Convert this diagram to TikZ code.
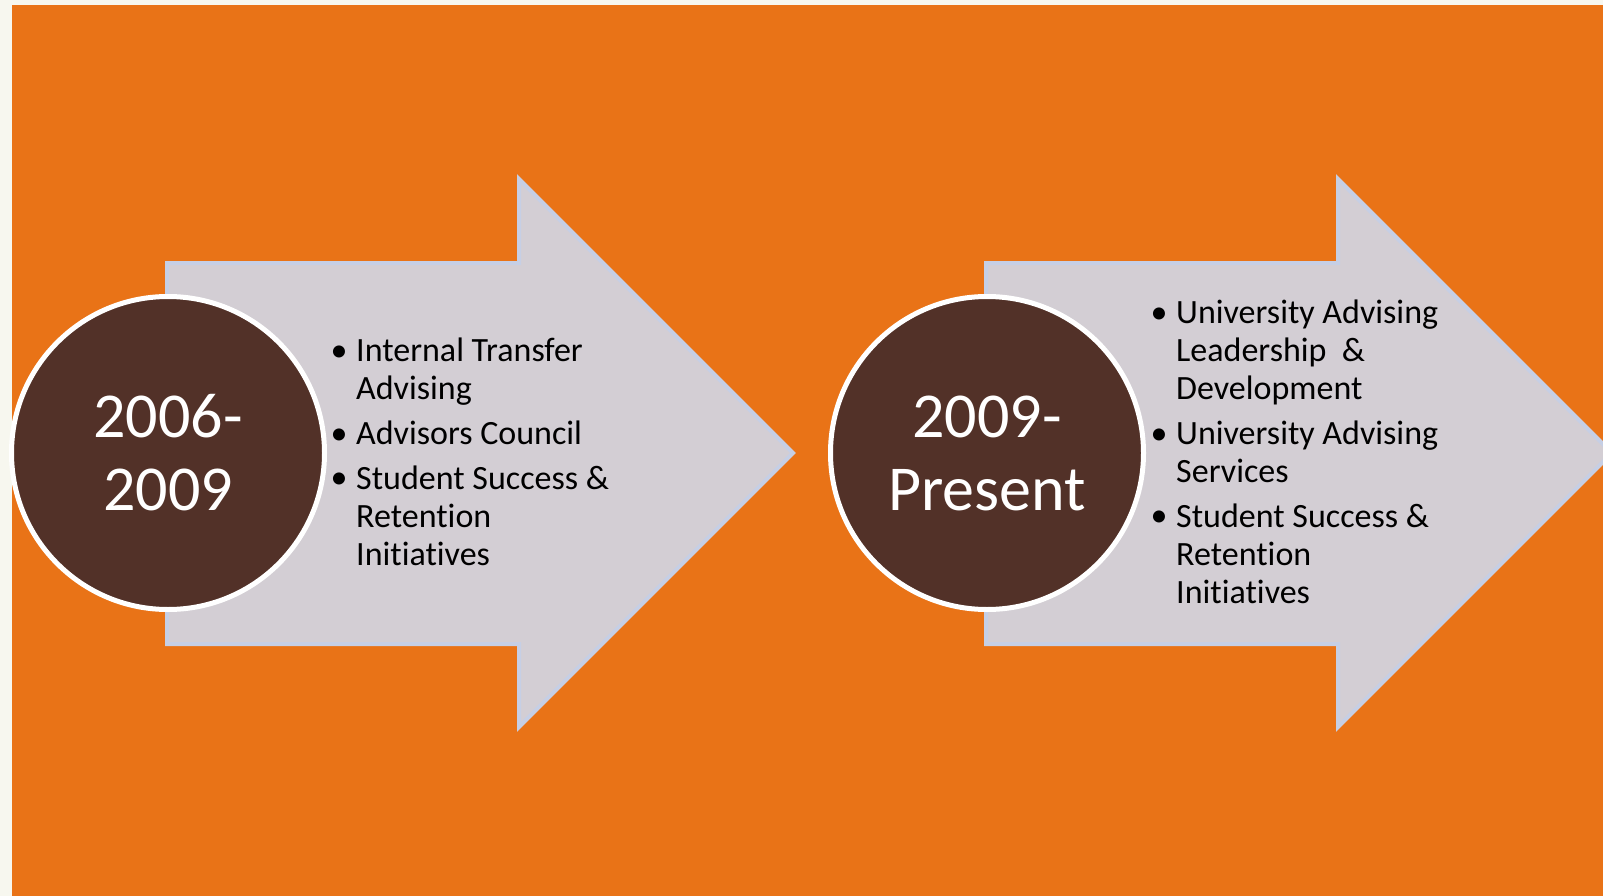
\documentclass[tikz,border=0pt]{standalone}
\usepackage{fontspec}
\setmainfont{Carlito}[Ligatures={NoCommon}]
\definecolor{bgorange}{HTML}{E97317}
\definecolor{offwhite}{HTML}{F7F7EF}
\definecolor{arrowfill}{HTML}{D3CED4}
\definecolor{arrowline}{HTML}{C6CFE5}
\definecolor{circfill}{HTML}{523128}
\tikzset{
  bigarrow/.style={fill=arrowfill, draw=arrowline, line width=4pt, line join=miter},
  yearcirc/.style={circle, fill=circfill, draw=white, line width=5pt, minimum size=313pt, inner sep=0pt,
    text=white, align=center, font=\fontsize{64}{73}\selectfont},
  itemtext/.style={anchor=base west, inner sep=0pt, align=left, text=black, font=\fontsize{34}{38}\selectfont},
  bul/.style={anchor=base, inner sep=0pt, text=black, font=\fontsize{34}{38}\selectfont}
}
\begin{document}
\begin{tikzpicture}[x=1pt,y=-1pt]
\useasboundingbox (0,0) rectangle (1603,896);
\fill[offwhite] (0,0) rectangle (1603,896);
\fill[bgorange] (12,5) rectangle (1603,896);
\clip (0,0) rectangle (1603,896);
% arrows
\foreach \dx in {0,819}{
  \begin{scope}[shift={(\dx,0)}]
    \draw[bigarrow] (167,263) -- (519,263) -- (519,179) -- (793,453) -- (519,727) -- (519,644) -- (167,644) -- cycle;
  \end{scope}
}
% circles
\node[yearcirc] (c1) at (168,453) {2006-\\2009};
\node[yearcirc] (c2) at (987,453) {2009-\\Present};
% left list (anchor = baseline of last line)
\node[bul] (b1) at (339,361.5) {•};
\node[itemtext] (t1) at (356,399.5) {Internal Transfer\\Advising};
\node[bul] (b2) at (339,444) {•};
\node[itemtext] (t2) at (356,444) {Advisors Council};
\node[bul] (b3) at (339,488) {•};
\node[itemtext] (t3) at (356,565) {Student Success \&\\Retention\\Initiatives};
% right list
\node[bul] (b4) at (1159,323) {•};
\node[itemtext] (t4) at (1176,399) {University Advising\\Leadership\ \ \&\\Development};
\node[bul] (b5) at (1159,444) {•};
\node[itemtext] (t5) at (1176,482) {University Advising\\Services};
\node[bul] (b6) at (1159,526) {•};
\node[itemtext] (t6) at (1176,603) {Student Success \&\\Retention\\Initiatives};
\end{tikzpicture}
\end{document}
